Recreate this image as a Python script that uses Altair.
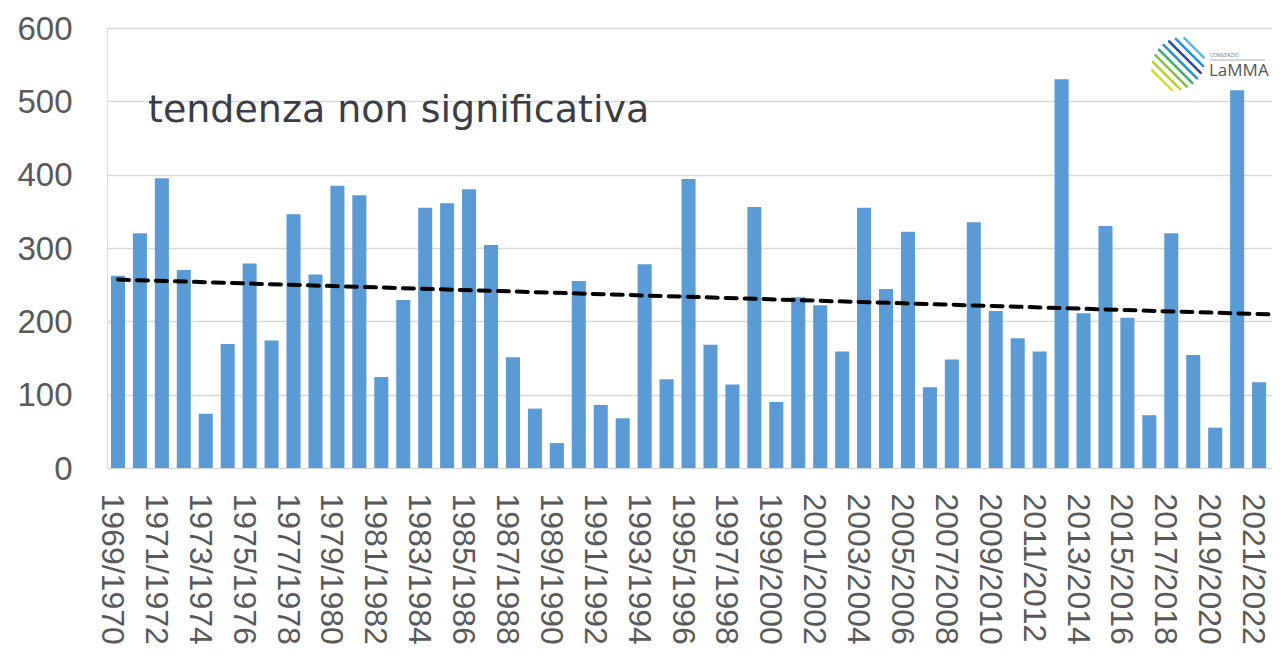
import math
import altair as alt
import pandas as pd

# ---- data ----
seasons = [
    "1969/1970", "1970/1971", "1971/1972", "1972/1973", "1973/1974", "1974/1975",
    "1975/1976", "1976/1977", "1977/1978", "1978/1979", "1979/1980", "1980/1981",
    "1981/1982", "1982/1983", "1983/1984", "1984/1985", "1985/1986", "1986/1987",
    "1987/1988", "1988/1989", "1989/1990", "1990/1991", "1991/1992", "1992/1993",
    "1993/1994", "1994/1995", "1995/1996", "1996/1997", "1997/1998", "1998/1999",
    "1999/2000", "2000/2001", "2001/2002", "2002/2003", "2003/2004", "2004/2005",
    "2005/2006", "2006/2007", "2007/2008", "2008/2009", "2009/2010", "2010/2011",
    "2011/2012", "2012/2013", "2013/2014", "2014/2015", "2015/2016", "2016/2017",
    "2017/2018", "2018/2019", "2019/2020", "2020/2021", "2021/2022", "2022/2023",
]
values = [
    262, 320, 395, 270, 74, 169, 279, 174, 346, 264,
    385, 372, 124, 229, 355, 361, 380, 304, 151, 81,
    34, 255, 86, 68, 278, 121, 394, 168, 114, 356,
    90, 233, 222, 159, 355, 244, 322, 110, 148, 335,
    214, 177, 159, 530, 211, 330, 205, 72, 320, 154,
    55, 515, 117, 136,
]
y_ticks = [0, 100, 200, 300, 400, 500, 600]
x_label_values = seasons[::2]
annotation = ["tendenza non significativa"]

n = len(values)
df = pd.DataFrame({"season": seasons, "value": values, "idx": list(range(n))})

BAR = "#5B9BD5"
LABEL = "#595959"
AXIS_FONT = "Liberation Sans"

bars = alt.Chart(df).mark_bar(color=BAR).encode(
    x=alt.X(
        "season:N",
        sort=seasons,
        scale=alt.Scale(paddingInner=0.36, paddingOuter=0.18),
        axis=alt.Axis(
            title=None,
            values=x_label_values,
            labelAngle=90,
            labelFont=AXIS_FONT,
            labelFontSize=32,
            labelColor=LABEL,
            labelPadding=25,
            labelOffset=-6,
            ticks=False,
            tickSize=0,
            domain=False,
            grid=False,
            labelOverlap=False,
        ),
    ),
    y=alt.Y(
        "value:Q",
        scale=alt.Scale(domain=[0, 600], nice=False),
        axis=alt.Axis(
            title=None,
            values=y_ticks,
            labelFont=AXIS_FONT,
            labelFontSize=33,
            labelColor=LABEL,
            labelPadding=35,
            labelOffset=1,
            ticks=False,
            tickSize=0,
            domain=False,
            grid=True,
            gridColor="#d9d9d9",
            gridWidth=1.5,
        ),
    ),
)

trend = (
    alt.Chart(df)
    .transform_regression("idx", "value")
    .mark_line(color="black", strokeWidth=4, strokeDash=[11, 8], strokeCap="round")
    .encode(
        x=alt.X("idx:Q", scale=alt.Scale(domain=[-0.5, n - 0.5], nice=False, zero=False), axis=None),
        y=alt.Y("value:Q"),
    )
)

note = alt.Chart(pd.DataFrame({"t": annotation})).mark_text(
    align="left", baseline="alphabetic", font="DejaVu Sans", fontSize=38, color="#3c3c46"
).encode(x=alt.value(41), y=alt.value(94), text="t:N")

# ---- LaMMA logo (decoration) ----
cx, cy, r = 1071, 36, 28
stripe_colors = ["#d4e021", "#b2d235", "#7cc242", "#3fae6a", "#2b8fc9", "#2c4a94", "#2a8fd4", "#59b8ea"]
rows = []
for k, col in enumerate(stripe_colors):
    d = -22.75 + 6.5 * k
    mx = cx + d / math.sqrt(2)
    my = cy - d / math.sqrt(2)
    h = math.sqrt(max(r * r - d * d, 0)) * 0.85
    rows.append({"x1": mx - h / math.sqrt(2), "y1": my - h / math.sqrt(2),
                 "x2": mx + h / math.sqrt(2), "y2": my + h / math.sqrt(2), "c": col})
logo_df = pd.DataFrame(rows)
stripes = alt.Chart(logo_df).mark_rule(strokeWidth=2.5, strokeCap="round").encode(
    x=alt.X("x1:Q", scale=None), y=alt.Y("y1:Q", scale=None),
    x2="x2:Q", y2="y2:Q", color=alt.Color("c:N", scale=None),
)
logo_line = alt.Chart(pd.DataFrame({"a": [0]})).mark_rule(color="#9a9a9a", strokeWidth=0.8).encode(
    x=alt.value(1103), x2=alt.value(1158), y=alt.value(32)
)
logo_small = alt.Chart(pd.DataFrame({"t": ["CONSORZIO"]})).mark_text(
    align="left", baseline="alphabetic", font="Open Sans", fontSize=5, color="#777777"
).encode(x=alt.value(1103), y=alt.value(29), text="t:N")
logo_big = alt.Chart(pd.DataFrame({"t": ["LaMMA"]})).mark_text(
    align="left", baseline="alphabetic", font="Open Sans", fontSize=17, color="#555555"
).encode(x=alt.value(1102), y=alt.value(48), text="t:N")

chart = (
    alt.layer(bars, trend, note, stripes, logo_line, logo_small, logo_big)
    .resolve_scale(x="independent")
    .properties(
        width=1185,
        height=440,
        autosize=alt.AutoSizeParams(type="none"),
        padding={"left": 99, "top": 20, "right": -20, "bottom": 184},
    )
    .configure_view(stroke="#b3b3b3", strokeWidth=2)
    .configure(background="white")
)

chart.save("out.html", embed_options={"renderer": "svg", "actions": False})
